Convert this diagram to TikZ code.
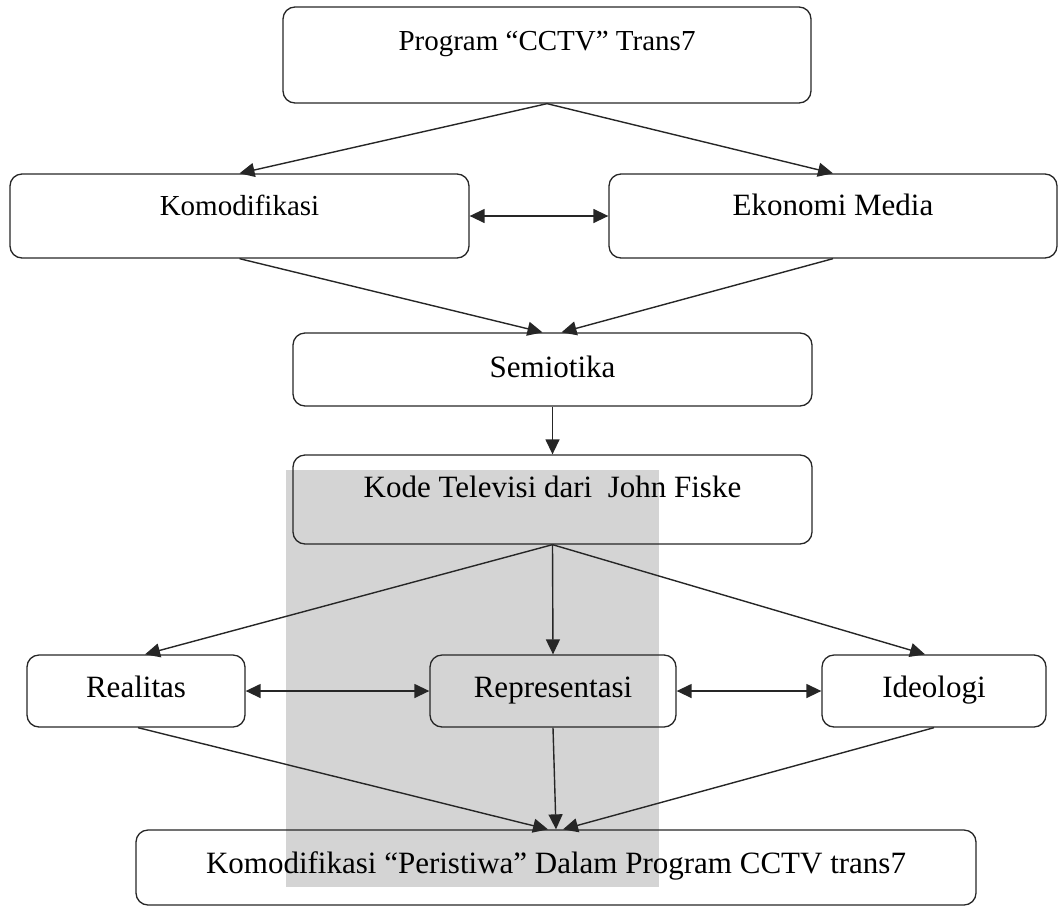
\documentclass[tikz,border=0pt]{standalone}
\usepackage{fontspec}
\setmainfont{Liberation Serif}
\usetikzlibrary{arrows.meta}

\begin{document}
\begin{tikzpicture}[x=1pt,y=-1pt,
    kotak/.style={draw=black!85, line width=1.3pt, rounded corners=12pt, inner sep=0pt,
                  text height=21pt, font=\fontsize{31}{36}\selectfont},
    kecil/.style={text height=19pt, font=\fontsize{29}{34}\selectfont},
    panah/.style={draw=black!85, line width=1.4pt, -{Triangle[length=15pt,width=14pt]}},
    duapanah/.style={panah, {Triangle[length=15pt,width=14pt]}-{Triangle[length=15pt,width=14pt]}}]
             \useasboundingbox (0,0) rectangle (1059,908);
             % latar abu-abu
             \fill[black!17] (286,470) rectangle (659,887);

             \node[kotak, kecil, minimum width=528pt, minimum height=96pt, text depth=29pt] (program) at (547,55) {Program “CCTV” Trans7};
             \node[kotak, kecil, minimum width=459pt, minimum height=84pt, text depth=21pt] (komodifikasi) at (239.5,216) {Komodifikasi};
             \node[kotak, minimum width=448pt, minimum height=84pt, text depth=23pt] (ekonomi) at (833,216) {Ekonomi Media};
             \node[kotak, minimum width=519pt, minimum height=73pt, text depth=6pt] (semiotika) at (552.5,369.5) {Semiotika};
             \node[kotak, minimum width=519pt, minimum height=89pt, text depth=26pt] (kode) at (552.5,499.5) {Kode Televisi dari~ John Fiske};
             \node[kotak, minimum width=218pt, minimum height=72pt, text depth=9pt] (realitas) at (136,691) {Realitas};
             \node[kotak, minimum width=246pt, minimum height=72pt, text depth=9pt] (representasi) at (553,691) {Representasi};
             \node[kotak, minimum width=224pt, minimum height=72pt, text depth=9pt] (ideologi) at (934,691) {Ideologi};
             \node[kotak, minimum width=840pt, minimum height=75pt, text depth=10pt] (hasil) at (556,867.5) {Komodifikasi “Peristiwa” Dalam Program CCTV trans7};

             \draw[panah] (program.south) -- (komodifikasi.north);
             \draw[panah] (program.south) -- (ekonomi.north);
             \draw[duapanah] (komodifikasi.east) -- (ekonomi.west);
             \draw[panah] (komodifikasi.south) -- ([xshift=-10pt]semiotika.north);
             \draw[panah] (ekonomi.south) -- ([xshift=9pt]semiotika.north);
             \draw[panah] (semiotika.south) -- (kode.north);

             \draw[panah] (kode.south) -- ([xshift=9pt]realitas.north);
             \draw[panah] (kode.south) -- (representasi.north);
             \draw[panah] (kode.south) -- ([xshift=-9pt]ideologi.north);
             \draw[duapanah] (realitas.east) -- (representasi.west);
             \draw[duapanah] (representasi.east) -- (ideologi.west);

             \draw[panah] ([xshift=2pt]realitas.south) -- ([xshift=-8pt]hasil.north);
             \draw[panah] (representasi.south) -- (hasil.north);
             \draw[panah] (ideologi.south) -- ([xshift=7pt]hasil.north);
\end{tikzpicture}
\end{document}
